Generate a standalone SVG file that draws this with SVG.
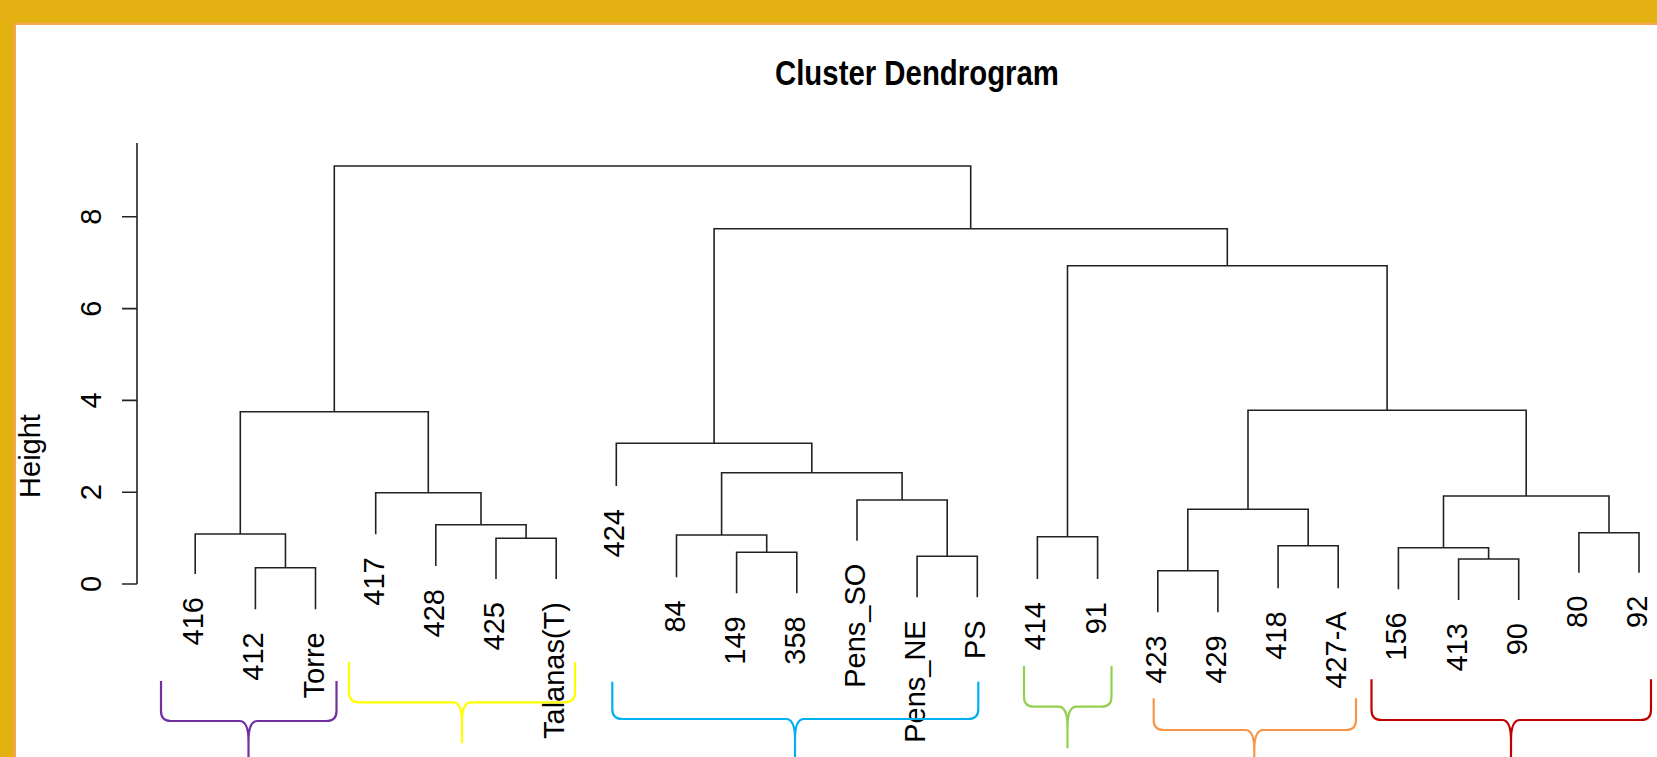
<svg xmlns="http://www.w3.org/2000/svg" width="1657" height="757" viewBox="0 0 1657 757">
<style>
.lbl{font-family:"Liberation Sans",Arial,sans-serif;font-size:29px;fill:#000;text-anchor:end}
.tick{font-family:"Liberation Sans",Arial,sans-serif;font-size:29px;fill:#000;text-anchor:middle}
.ln{fill:none;stroke:#222;stroke-width:1.6}
.br{fill:none;stroke-width:2.2;stroke-linejoin:round}
</style>
<rect x="0" y="0" width="1657" height="757" fill="#E3B112"/>
<rect x="14" y="23" width="1643" height="734" fill="#F7A35C"/>
<rect x="16" y="25" width="1641" height="732" fill="#FFFFFF"/>
<text x="775" y="85" font-family="'Liberation Sans',Arial,sans-serif" font-size="35" font-weight="bold" textLength="284" lengthAdjust="spacingAndGlyphs">Cluster Dendrogram</text>
<g id="axis">
<path class="ln" d="M137,143 V584 M122,584 H137 M122,492.2 H137 M122,400.4 H137 M122,308.6 H137 M122,216.8 H137"/>
<text class="tick" transform="translate(101,584) rotate(-90)">0</text>
<text class="tick" transform="translate(101,492.2) rotate(-90)">2</text>
<text class="tick" transform="translate(101,400.4) rotate(-90)">4</text>
<text class="tick" transform="translate(101,308.6) rotate(-90)">6</text>
<text class="tick" transform="translate(101,216.8) rotate(-90)">8</text>
<text class="tick" transform="translate(40,456) rotate(-90)">Height</text>
</g>
<g id="connectors" class="ln">
<path d="M255.4,609.3 V567.7 H315.5 V609.3"/>
<path d="M195.2,574 V534 H285.45 V567.7"/>
<path d="M496,579 V538.3 H556.2 V579"/>
<path d="M435.8,566 V524.7 H526.1 V538.3"/>
<path d="M375.7,534.3 V492.7 H481 V524.7"/>
<path d="M240.3,534 V411.7 H428.3 V492.7"/>
<path d="M736.6,593.3 V552.3 H796.8 V593.3"/>
<path d="M676.5,577.3 V535 H766.7 V552.3"/>
<path d="M917.1,597.3 V556.3 H977.3 V597.3"/>
<path d="M857,540.7 V500 H947.2 V556.3"/>
<path d="M721.6,535 V472.7 H902.1 V500"/>
<path d="M616.3,486 V443.3 H811.8 V472.7"/>
<path d="M1037.4,579 V536.7 H1097.6 V579"/>
<path d="M1157.8,612.3 V570.7 H1217.9 V612.3"/>
<path d="M1278.1,588.3 V545.7 H1338.2 V588.3"/>
<path d="M1187.8,570.7 V509.3 H1308.2 V545.7"/>
<path d="M1458.6,600 V559 H1518.7 V600"/>
<path d="M1398.4,589.3 V547.7 H1488.6 V559"/>
<path d="M1578.9,572.7 V532.7 H1639 V572.7"/>
<path d="M1443.5,547.7 V496 H1609 V532.7"/>
<path d="M1248,509.3 V410.3 H1526.2 V496"/>
<path d="M1067.5,536.7 V265.7 H1387.1 V410.3"/>
<path d="M714.1,443.3 V228.7 H1227.3 V265.7"/>
<path d="M334.3,411.7 V166 H970.7 V228.7"/>
</g>
<g id="leaves">
<g id="n416"><text class="lbl" transform="translate(203.2,597) rotate(-90)">416</text></g>
<g id="n412"><text class="lbl" transform="translate(263.4,632.3) rotate(-90)">412</text></g>
<g id="nTorre"><text class="lbl" transform="translate(323.5,632.3) rotate(-90)">Torre</text></g>
<g id="n417"><text class="lbl" transform="translate(383.7,557.3) rotate(-90)">417</text></g>
<g id="n428"><text class="lbl" transform="translate(443.8,589) rotate(-90)">428</text></g>
<g id="n425"><text class="lbl" transform="translate(504,602) rotate(-90)">425</text></g>
<g id="nTalanas"><text class="lbl" transform="translate(564.2,602) rotate(-90)">Talanas(T)</text></g>
<g id="n424"><text class="lbl" transform="translate(624.3,509) rotate(-90)">424</text></g>
<g id="n84"><text class="lbl" transform="translate(684.5,600.3) rotate(-90)">84</text></g>
<g id="n149"><text class="lbl" transform="translate(744.6,616.3) rotate(-90)">149</text></g>
<g id="n358"><text class="lbl" transform="translate(804.8,616.3) rotate(-90)">358</text></g>
<g id="nPensSO"><text class="lbl" transform="translate(865,563.7) rotate(-90)">Pens_SO</text></g>
<g id="nPensNE"><text class="lbl" transform="translate(925.1,620.3) rotate(-90)">Pens_NE</text></g>
<g id="nPS"><text class="lbl" transform="translate(985.3,620.3) rotate(-90)">PS</text></g>
<g id="n414"><text class="lbl" transform="translate(1045.4,602) rotate(-90)">414</text></g>
<g id="n91"><text class="lbl" transform="translate(1105.6,602) rotate(-90)">91</text></g>
<g id="n423"><text class="lbl" transform="translate(1165.8,635.3) rotate(-90)">423</text></g>
<g id="n429"><text class="lbl" transform="translate(1225.9,635.3) rotate(-90)">429</text></g>
<g id="n418"><text class="lbl" transform="translate(1286.1,611.3) rotate(-90)">418</text></g>
<g id="n427A"><text class="lbl" transform="translate(1346.2,611.3) rotate(-90)">427-A</text></g>
<g id="n156"><text class="lbl" transform="translate(1406.4,612.3) rotate(-90)">156</text></g>
<g id="n413"><text class="lbl" transform="translate(1466.6,623) rotate(-90)">413</text></g>
<g id="n90"><text class="lbl" transform="translate(1526.7,623) rotate(-90)">90</text></g>
<g id="n80"><text class="lbl" transform="translate(1586.9,595.7) rotate(-90)">80</text></g>
<g id="n92"><text class="lbl" transform="translate(1647,595.7) rotate(-90)">92</text></g>
</g>
<g id="braces">
<path id="brace-purple" class="br" stroke="#7030A0" d="M161,681 V711 Q161,721 171,721 H239.5 Q248.5,721 248.5,741 V760 M248.5,741 Q248.5,721 257.5,721 H326.5 Q336.5,721 336.5,711 V681"/>
<path id="brace-yellow" class="br" stroke="#FFFF00" d="M349,662 V692.3 Q349,702.3 359,702.3 H453 Q462,702.3 462,722.3 V743.3 M462,722.3 Q462,702.3 471,702.3 H565 Q575,702.3 575,692.3 V662"/>
<path id="brace-blue" class="br" stroke="#00B0F0" d="M612.3,681.7 V709 Q612.3,719 622.3,719 H786 Q795,719 795,739 V760 M795,739 Q795,719 804,719 H968.3 Q978.3,719 978.3,709 V681.7"/>
<path id="brace-green" class="br" stroke="#92D050" d="M1024,666 V696.7 Q1024,706.7 1034,706.7 H1058.5 Q1067.5,706.7 1067.5,726.7 V748.3 M1067.5,726.7 Q1067.5,706.7 1076.5,706.7 H1101.5 Q1111.5,706.7 1111.5,696.7 V666"/>
<path id="brace-orange" class="br" stroke="#F79646" d="M1153.7,698.3 V720 Q1153.7,730 1163.7,730 H1245.3 Q1254.3,730 1254.3,750 V760 M1254.3,750 Q1254.3,730 1263.3,730 H1346 Q1356,730 1356,720 V698.3"/>
<path id="brace-red" class="br" stroke="#C00000" d="M1371.5,679.3 V710 Q1371.5,720 1381.5,720 H1502 Q1511,720 1511,740 V760 M1511,740 Q1511,720 1520,720 H1641 Q1651,720 1651,710 V679.3"/>
</g>
</svg>
